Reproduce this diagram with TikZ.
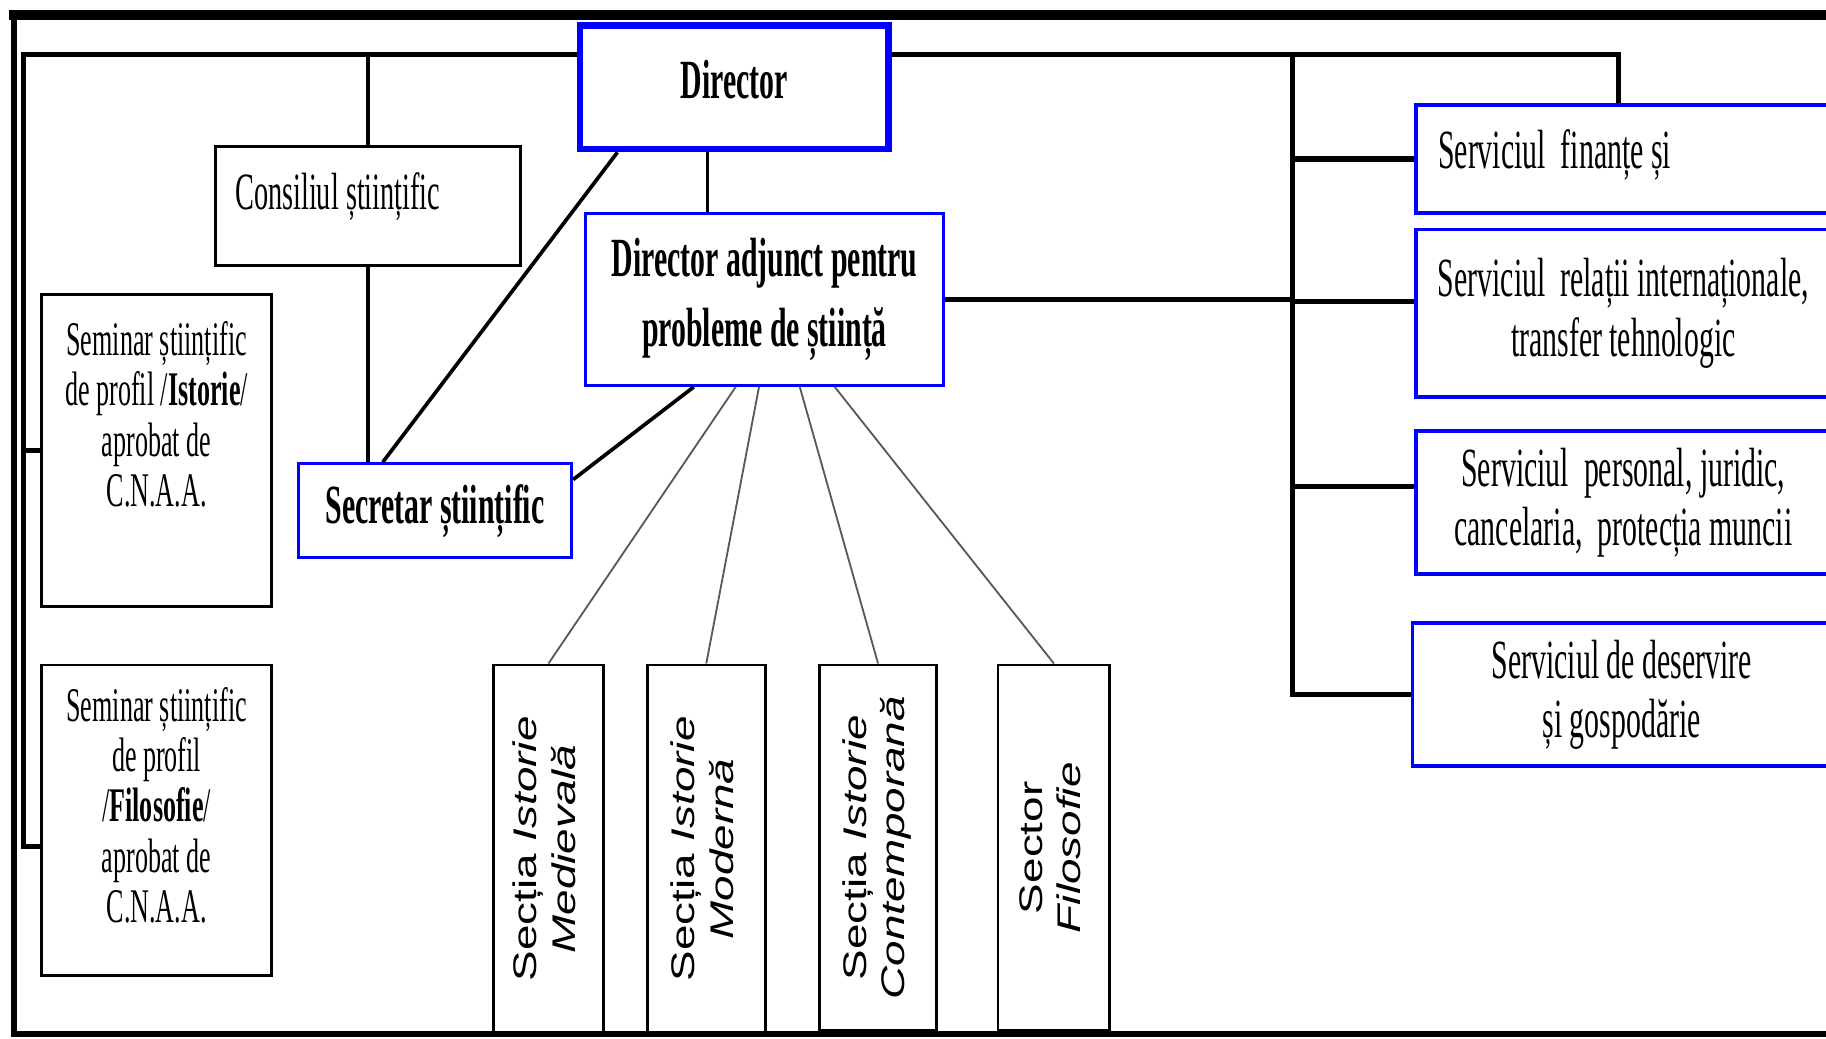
\documentclass[tikz,border=0pt]{standalone}
\usepackage{fontspec}
\setmainfont{Liberation Serif}[FakeStretch=0.54]
\newfontfamily\sectfont{Liberation Sans}[FakeStretch=1.4]
\usepackage{graphicx}
\usepackage{tikz}

\newcommand{\boxfont}{\fontsize{13.5}{14.5}\selectfont}
\newcommand{\semfont}{\fontsize{11.8}{12.3}\selectfont}
\newcommand{\secfont}{\sectfont\fontsize{8}{9.4}\selectfont}
\newcommand{\sectext}[2]{\rotatebox{90}{\secfont\begin{tabular}{@{}c@{}}#1\\#2\end{tabular}}}

\begin{document}
\begin{tikzpicture}[x=0.1mm,y=-0.1mm,
  box/.style={draw,line width=0.7pt,inner sep=0pt,align=center,font=\boxfont},
  bluebox/.style={box,draw=blue},
  bus/.style={line width=1.3pt},
  link/.style={line width=0.9pt},
  thinlink/.style={line width=0.45pt,black!65}]
  \useasboundingbox (0,0) rectangle (1568,892);
  % frame
  \draw[line width=2.5pt] (8,13) -- (1600,13);
  \draw[line width=1.3pt] (12,13) -- (12,888) -- (1600,888);
  % leadership
  \node[bluebox,line width=1.6pt,minimum width=26.5mm,minimum height=10.6mm] (dir) at (630.5,75) {\raisebox{1.4mm}{\textbf{Director}}};
  \node[bluebox,minimum width=30.7mm,minimum height=14.8mm,font={\fontsize{13.5}{17}\selectfont}] (adj) at (656.5,257) {\textbf{Director adjunct pentru}\\\textbf{probleme de știință}};
  \node[box] (cons) at (316,177) {\parbox[c][10.2mm][t]{26.2mm}{\fontsize{12.8}{14}\selectfont\vspace*{2.2mm}\hspace*{1.7mm}Consiliul științific}};
  \node[bluebox,minimum width=23.5mm,minimum height=8.1mm] (secr) at (373.5,438.5) {\textbf{Secretar științific}};
  % seminars
  \node[box] (semist) at (134.5,387) {\parbox[c][26.8mm][t]{19.7mm}{\semfont\centering\vspace*{2.3mm}Seminar științific\\de profil /\textbf{Istorie}/\\aprobat de\\C.N.A.A.}};
  \node[box] (semfil) at (134.5,704.5) {\parbox[c][26.7mm][t]{19.7mm}{\semfont\centering\vspace*{1.9mm}Seminar științific\\de profil\\/\textbf{Filosofie}/\\aprobat de\\C.N.A.A.}};
  % sections
  \node[box,minimum width=9.4mm,minimum height=31.6mm] (secmed) at (471,729) {\sectext{Secția \textit{Istorie}}{\textit{Medievală}}};
  \node[box,minimum width=10.1mm,minimum height=31.6mm] (secmod) at (606.5,729) {\sectext{Secția \textit{Istorie}}{\textit{Modernă}}};
  \node[box,minimum width=10mm,minimum height=31.4mm] (seccon) at (754,728) {\sectext{Secția \textit{Istorie}}{\textit{Contemporană}}};
  \node[box,minimum width=9.6mm,minimum height=31.4mm] (secfil) at (905,728) {\sectext{Sector}{\textit{Filosofie}}};
  % services
  \node[bluebox,line width=0.9pt] (sfin) at (1394,136.5) {\parbox[c][9.3mm][t]{35.6mm}{\vspace*{2.1mm}\hspace*{1.9mm}Serviciul\ \ finanțe și}};
  \node[bluebox,line width=0.9pt,minimum width=35.6mm,minimum height=14.4mm] (srel) at (1394,269) {Serviciul\ \ relații internaționale,\\transfer tehnologic};
  \node[bluebox,line width=0.9pt,minimum width=35.6mm,minimum height=12.3mm] (spers) at (1394,431.5) {Serviciul\ \ personal, juridic,\\cancelaria,\ \ protecția muncii};
  \node[bluebox,line width=0.9pt,minimum width=35.9mm,minimum height=12.3mm] (sdes) at (1392.5,596.5) {Serviciul de deservire\\și gospodărie};
  % buses
  \coordinate (busl) at (20,47);
  \coordinate (busb) at (20,727);
  \coordinate (busr) at (1390,47);
  \coordinate (busv) at (1110,47);
  \coordinate (srelin) at ([yshift=1mm]srel.west);
  \coordinate (spersin) at ([yshift=1.4mm]spers.west);
  \draw[bus] (dir.west |- busl) -- (busl) -- (busb) -- (busb -| semfil.west);
  \draw[bus] (busl |- semist.west) -- (semist.west);
  \draw[bus] (dir.east |- busr) -- (busr) -- (busr |- sfin.north);
  \draw[bus] (busv) -- (busv |- sdes.west) -- (sdes.west);
  \draw[bus] (busv |- sfin.west) -- (sfin.west);
  \draw[bus] (busv |- srelin) -- (srelin);
  \draw[bus] (busv |- spersin) -- (spersin);
  \draw[bus] (adj.east) -- (adj.east -| busv);
  % links
  \coordinate (dirs) at ([xshift=-2.3mm]dir.south);
  \draw[link] (cons.north |- busl) -- (cons.north);
  \draw[link] (cons.south) -- (cons.south |- secr.north);
  \draw[link] (dirs) -- (dirs |- adj.north);
  \draw[link] ([xshift=3.5mm]dir.south west) -- ([xshift=7.4mm]secr.north west);
  \draw[link] ([xshift=9.4mm]adj.south west) -- ([yshift=-1.5mm]secr.north east);
  \foreach \s/\dx in {secmed/13mm,secmod/15mm,seccon/18.5mm,secfil/21.5mm}
    {\draw[thinlink] ([xshift=\dx]adj.south west) -- (\s.north);}
\end{tikzpicture}
\end{document}
